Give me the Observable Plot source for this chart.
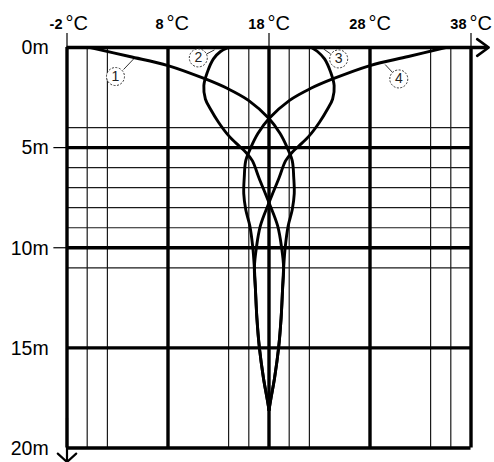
<!DOCTYPE html>
<html>
<head>
<meta charset="utf-8">
<script src="https://cdn.jsdelivr.net/npm/d3@7"></script>
<script src="https://cdn.jsdelivr.net/npm/@observablehq/plot@0.6"></script>
<style>
  html, body { margin: 0; padding: 0; background: #fff; }
</style>
</head>
<body>
<div id="chart"></div>
<script>
// Axis ticks
const majorTemps = [-2, 8, 18, 28, 38];
const minorTemps = [0, 2, 14, 16, 20, 22, 34, 36];
const majorDepths = [0, 5, 10, 15, 20];
const minorDepths = [4, 6, 7, 8, 9, 11];
const topTickTemps = [-2, 18, 38];
const leftTickDepths = [5, 10];

// Curve 1
const depth1 = [0, 0.45, 0.9, 1.57, 2.05, 2.65, 3.55, 4.3, 5.0, 5.65, 6.5, 7.3, 8.1, 8.9, 10, 11, 12, 13.5, 15, 16.5, 17.5, 18.1];
const temp1  = [0.3, 4.2, 8.0, 11.7, 13.9, 16.0, 18.0, 19.1, 19.8, 20.3, 20.45, 20.5, 20.3, 19.9, 19.6, 19.45, 19.35, 19.2, 18.95, 18.55, 18.2, 18.0];
// Curve 2
const depth2 = [0, 0.2, 0.57, 1.23, 1.9, 2.57, 3.07, 3.73, 4.4, 4.9, 5.23, 5.65, 6.5, 7.75, 8.9, 10, 11, 12, 13.5, 15, 16.5, 17.5, 18.1];
const temp2  = [14.0, 13.2, 12.5, 11.9, 11.55, 11.7, 12.2, 13.0, 14.0, 15.0, 15.7, 16.35, 17.0, 18.0, 18.85, 19.25, 19.45, 19.35, 19.2, 18.95, 18.55, 18.2, 18.0];
// Curve 3
const depth3 = [0, 0.2, 0.57, 1.23, 1.9, 2.57, 3.07, 3.73, 4.4, 4.9, 5.23, 5.65, 6.5, 7.75, 8.9, 10, 11, 12, 13.5, 15, 16.5, 17.5, 18.1];
const temp3  = [22.2, 22.8, 23.5, 24.1, 24.45, 24.3, 23.8, 23.0, 22.0, 21.0, 20.3, 19.65, 19.0, 18.0, 17.15, 16.75, 16.55, 16.65, 16.8, 17.05, 17.45, 17.8, 18.0];
// Curve 4
const depth4 = [0, 0.45, 0.9, 1.57, 2.05, 2.65, 3.55, 4.3, 5.0, 5.65, 6.5, 7.3, 8.1, 8.9, 10, 11, 12, 13.5, 15, 16.5, 17.5, 18.1];
const temp4  = [35.5, 31.8, 28.0, 24.3, 22.1, 20.0, 18.0, 16.9, 16.2, 15.7, 15.55, 15.5, 15.7, 16.1, 16.4, 16.55, 16.65, 16.8, 17.05, 17.45, 17.8, 18.0];

// Circled labels
const labelNames = ["1", "2", "3", "4"];
const labelTemps = [2.8, 11.0, 24.9, 30.85];
const labelDepths = [1.45, 0.52, 0.57, 1.57];
// Leader lines (label -> curve)
const leaderT1 = [3.6, 11.8, 24.1, 30.2];
const leaderD1 = [1.1, 0.33, 0.32, 1.23];
const leaderT2 = [4.6, 12.6, 23.4, 29.5];
const leaderD2 = [0.57, 0.12, 0.07, 0.85];

const toRows = (ts, ds) => ts.map((t, i) => ({t, d: ds[i]}));
const curves = [toRows(temp1, depth1), toRows(temp2, depth2), toRows(temp3, depth3), toRows(temp4, depth4)];
const labels = labelNames.map((n, i) => ({n, t: labelTemps[i], d: labelDepths[i]}));
const leaders = labelNames.map((n, i) => ({t1: leaderT1[i], d1: leaderD1[i], t2: leaderT2[i], d2: leaderD2[i]}));

const FONT = "'Liberation Sans', Arial, Helvetica, sans-serif";

const chart = Plot.plot({
  width: 494,
  height: 462,
  marginLeft: 66.5,
  marginRight: 23.5,
  marginTop: 47,
  marginBottom: 14.5,
  x: {domain: [-2, 38], axis: null},
  y: {domain: [0, 20], reverse: true, axis: null},
  style: {background: "white", fontFamily: FONT, overflow: "visible"},
  marks: [
    // thin grid
    Plot.ruleX(minorTemps, {y1: 0, y2: 20, stroke: "#1a1a1a", strokeWidth: 1.2}),
    Plot.ruleY(minorDepths, {x1: -2, x2: 38, stroke: "#1a1a1a", strokeWidth: 1.2}),
    // thick grid
    Plot.ruleY(majorDepths.filter(d => d > 0), {x1: -2, x2: 38, stroke: "black", strokeWidth: 3.4}),
    Plot.ruleX(majorTemps, {y1: 0, y2: 20, stroke: "black", strokeWidth: 3.4}),
    // axes with arrows
    Plot.ruleY([0], {x1: -2, x2: 39.5, stroke: "black", strokeWidth: 3.6}),
    Plot.arrow([0], {x1: 35.5, y1: 0, x2: 39.75, y2: 0, stroke: "black", strokeWidth: 2.6, headLength: 8.2, headAngle: 72}),
    Plot.arrow([0], {x1: -2, y1: 18.5, x2: -2, y2: 20.7, stroke: "black", strokeWidth: 2.2, headLength: 8.5, headAngle: 95}),
    // small ticks
    Plot.ruleX(topTickTemps, {y1: 0, y2: -0.7, stroke: "black", strokeWidth: 1.2}),
    Plot.ruleY(leftTickDepths, {x1: -2, x2: -3.3, stroke: "black", strokeWidth: 1.2}),
    // curves
    ...curves.map(c => Plot.line(c, {x: "t", y: "d", curve: "catmull-rom", stroke: "black", strokeWidth: 2.9, strokeLinejoin: "round", strokeLinecap: "round"})),
    // leaders and circled labels
    Plot.link(leaders, {x1: "t1", y1: "d1", x2: "t2", y2: "d2", stroke: "#333", strokeWidth: 1}),
    Plot.dot(labels, {x: "t", y: "d", r: 9, fill: "white", stroke: "#333", strokeWidth: 1, strokeDasharray: "2,1.5"}),
    Plot.text(labels, {x: "t", y: "d", text: "n", fontSize: 14, fill: "#222"}),
    // top tick labels
    Plot.text(majorTemps, {x: d => d, y: 0, text: d => String(d), textAnchor: "end", lineAnchor: "bottom", dx: -4.5, dy: -19, fontSize: 14.5, fontWeight: "bold", fill: "black"}),
    Plot.text(majorTemps, {x: d => d, y: 0, text: () => "°C", textAnchor: "start", lineAnchor: "bottom", dx: -1.5, dy: -18, fontSize: 20, fill: "black"}),
    // left tick labels
    Plot.text(majorDepths, {x: -2, y: d => d, text: d => d + "m", textAnchor: "end", dx: -18.3, dy: 0.5, fontSize: 19.5, fill: "black"})
  ]
});
document.getElementById("chart").appendChild(chart);
</script>
</body>
</html>
